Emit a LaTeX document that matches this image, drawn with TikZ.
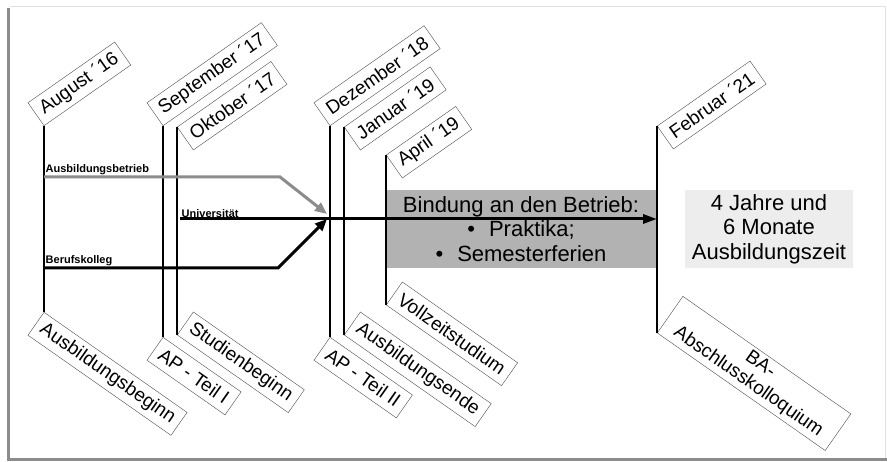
\documentclass[tikz,border=0pt]{standalone}
\usepackage{fontspec}
\setmainfont{Liberation Sans}
\usepackage{tikz}
\usetikzlibrary{arrows.meta}

\begin{document}
\begin{tikzpicture}[x=1pt,y=-1pt]
		\useasboundingbox (0,0) rectangle (887,462);
		\draw[black!12] (10,6) -- (885,6) -- (885,458);
		\draw[black!45, line width=3pt] (8.5,8) -- (8.5,459.5) -- (887,459.5);

		\begin{scope}
			[
				styleDateUp/.style={
					draw = black!70, rotate = 35,
					inner xsep = 7pt, minimum height = 28pt,
					font = \fontsize{19}{21}\selectfont
					},
				styleDateDown/.style={
					draw = black!70, rotate = -35, align = center,
					inner xsep = 7pt, minimum height = 28pt,
					font = \fontsize{19}{21}\selectfont
					},
				styleInfo/.style={minimum width = 269pt, minimum height = 78pt, align = center,
					font = \fontsize{22}{24.5}\selectfont},
				styleRoute/.style={anchor = south west, inner sep = 1.5pt,
					font = \fontsize{11}{12}\selectfont\bfseries},
			]
			\node(bind)[styleInfo, fill=black!30] at (521,229)
				{Bindung an den Betrieb:\\ \textbullet\hspace{14pt}Praktika;\\ \textbullet\hspace{14pt}Semesterferien};
			\node(dauer)[styleInfo, fill=black!7, minimum width=168pt] at (769,229)
				{4 Jahre und\\ 6 Monate\\ Ausbildungszeit};

			\node(aug)[styleDateUp, anchor=south west] at (44,126) {August ´16};
			\node(sep)[styleDateUp, anchor=south west] at (163,126) {September ´17};
			\node(okt)[styleDateUp, anchor=north west] at (177,127) {Oktober ´17};
			\node(dez)[styleDateUp, anchor=south west] at (330,126) {Dezember ´18};
			\node(jan)[styleDateUp, anchor=north west] at (344,127) {Januar ´19};
			\node(apr)[styleDateUp, anchor=north west] at (386,155) {April ´19};
			\node(feb)[styleDateUp, anchor=north west] at (657,126) {Februar ´21};

			\node(beginn)[styleDateDown, anchor=north west] at (44,312) {Ausbildungsbeginn};
			\node(ap1)[styleDateDown, anchor=north west] at (163,337) {AP - Teil I};
			\node(studium)[styleDateDown, anchor=south west] at (177,335) {Studienbeginn};
			\node(ap2)[styleDateDown, anchor=north west] at (330,337) {AP - Teil II};
			\node(ende)[styleDateDown, anchor=south west] at (344,335) {Ausbildungsende};
			\node(voll)[styleDateDown, anchor=south west] at (386,305) {Vollzeitstudium};
			\node(ba)[styleDateDown, anchor=south west, minimum width=205pt] at (657,333)
				{BA-\\Abschlusskolloquium};

			\coordinate(betrStart) at (44,177);
			\coordinate(betrKnee) at (280,177);
			\coordinate(uniStart) at (180,219);
			\coordinate(uniEnd) at (657,219);
			\coordinate(kollStart) at (44,268);
			\coordinate(kollKnee) at (278,268);
			\coordinate(mergeTop) at (327,214);
			\coordinate(mergeBot) at (327,219);

			\node(lblBetr)[styleRoute] at (betrStart) {Ausbildungsbetrieb};
			\node(lblUni)[styleRoute] at (uniStart) {Universität};
			\node(lblKoll)[styleRoute] at (kollStart) {Berufskolleg};
		\end{scope}

		\begin{scope}
			[ stem/.style = {draw, line width=1.6pt},
				route/.style = {line width=3pt, -{Triangle[length=12pt,width=10pt]}}]
			\path
			(aug.south west) edge[stem]			(beginn.north west)
			(sep.south west) edge[stem]			(ap1.north west)
			(okt.north west) edge[stem]			(studium.south west)
			(dez.south west) edge[stem]			(ap2.north west)
			(jan.north west) edge[stem]			(ende.south west)
			(apr.north west) edge[stem]			(voll.south west)
			(feb.north west) edge[stem]			(ba.south west);

			\draw[route, black!45] (betrStart) -- (betrKnee) -- (mergeTop);
			\draw[route] (kollStart) -- (kollKnee) -- (mergeBot);
			\draw[route, -{Triangle[length=14pt,width=9pt]}] (uniStart) -- (uniEnd);
		\end{scope}
	\end{tikzpicture}
\end{document}
